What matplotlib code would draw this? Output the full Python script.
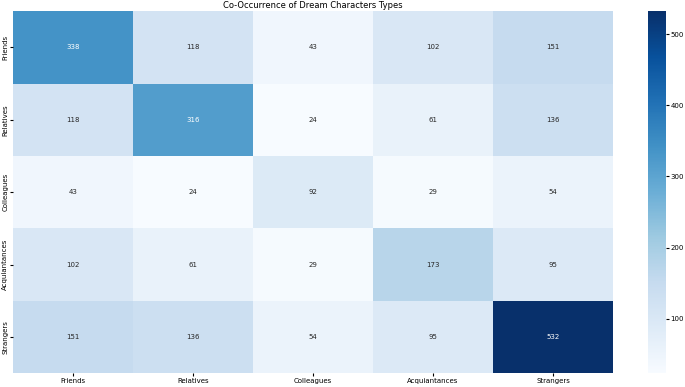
import matplotlib.pyplot as plt
import seaborn as sns
import pandas as pd

# character types and co-occurrence counts
types = ['Friends', 'Relatives', 'Colleagues', 'Acquiantances', 'Strangers']
friends = [338, 118, 43, 102, 151]
relatives = [118, 316, 24, 61, 136]
colleagues = [43, 24, 92, 29, 54]
acquaintances = [102, 61, 29, 173, 95]
strangers = [151, 136, 54, 95, 532]

df = pd.DataFrame([friends, relatives, colleagues, acquaintances, strangers],
                  index=types, columns=types)

fig = plt.figure(figsize=(6.85, 3.87), dpi=100)
ax = fig.add_axes([0.019, 0.036, 0.876, 0.935])
cax = fig.add_axes([0.946, 0.036, 0.026, 0.935])

sns.heatmap(df, annot=True, fmt='d', cmap='Blues', ax=ax, cbar_ax=cax,
            annot_kws={'fontsize': 5})
ax.set_title('Co-Occurrence of Dream Characters Types', fontsize=6, pad=2)
ax.tick_params(axis='both', labelsize=5, length=2, pad=1.5)
plt.setp(ax.get_yticklabels(), rotation=90, va='center')
cax.tick_params(labelsize=5, length=2, pad=1.5)
cax.set_yticks([100, 200, 300, 400, 500])
for spine in cax.spines.values():
    spine.set_visible(False)

plt.savefig('out.png', dpi=100)
